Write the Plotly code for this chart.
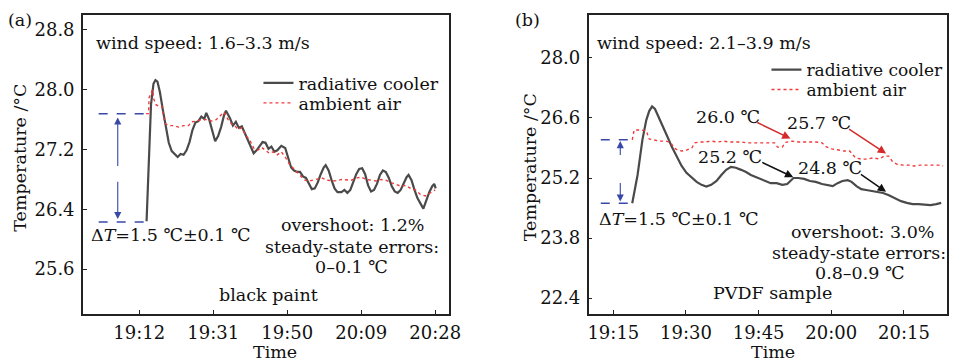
import plotly.graph_objects as go

# ---------------- data: panel (a) black paint (minutes after 19:00) ----------------
time_cooler_a = [13.90, 14.53, 15.04, 15.67, 16.18, 16.69, 17.32, 18.08, 18.84, 19.60,
                 20.36, 21.12, 21.88, 22.64, 23.40, 24.16, 24.92, 25.68, 26.44, 27.20,
                 27.96, 28.72, 29.23, 29.99, 30.75, 31.51, 32.27, 33.03, 33.79, 34.29,
                 35.31, 36.07, 36.83, 37.59, 38.35, 39.11, 39.87, 40.63, 41.39, 42.15,
                 42.91, 43.67, 44.43, 45.19, 45.95, 46.71, 47.47, 48.48, 49.49, 50.25,
                 51.01, 51.77, 52.53, 53.29, 54.05, 54.81, 55.57, 56.33, 57.09, 57.85,
                 58.61, 59.37, 59.88, 60.64, 61.40, 62.16, 62.92, 63.93, 64.69, 65.45,
                 66.21, 66.97, 67.73, 68.49, 69.25, 70.01, 70.77, 71.53, 72.29, 73.05,
                 73.81, 74.57, 75.33, 76.09, 76.85, 77.61, 78.37, 79.13, 79.89, 80.65,
                 81.16, 81.92, 82.68, 83.44, 84.20, 84.96, 85.72, 86.48, 87.24, 87.75,
                 88.13]
cooler_a = [26.24, 27.19, 27.80, 28.08, 28.13, 28.11, 27.97, 27.73, 27.49, 27.29,
            27.18, 27.14, 27.10, 27.14, 27.13, 27.19, 27.30, 27.46, 27.56, 27.58,
            27.64, 27.61, 27.69, 27.60, 27.44, 27.31, 27.38, 27.50, 27.66, 27.72,
            27.62, 27.52, 27.57, 27.49, 27.51, 27.42, 27.35, 27.26, 27.15, 27.19,
            27.25, 27.30, 27.29, 27.21, 27.24, 27.17, 27.19, 27.25, 27.22, 27.09,
            26.96, 26.92, 26.90, 26.90, 26.84, 26.82, 26.74, 26.67, 26.68, 26.76,
            26.87, 26.96, 26.99, 26.92, 26.79, 26.68, 26.63, 26.63, 26.66, 26.62,
            26.66, 26.76, 26.87, 26.94, 26.95, 26.87, 26.72, 26.64, 26.66, 26.74,
            26.86, 26.92, 26.90, 26.82, 26.71, 26.64, 26.62, 26.66, 26.74, 26.83,
            26.86, 26.79, 26.66, 26.55, 26.48, 26.41, 26.52, 26.63, 26.71, 26.74,
            26.68]
time_air_a = [13.77, 14.41, 14.53, 15.04, 15.42, 15.80, 16.31, 17.07, 17.83, 18.33,
              18.84, 19.60, 20.87, 22.13, 23.40, 24.67, 25.43, 26.69, 27.96, 29.23,
              30.49, 31.76, 32.77, 33.79, 34.29, 35.05, 35.81, 36.57, 37.33, 38.35,
              39.36, 40.37, 41.39, 42.40, 43.41, 44.43, 45.44, 46.45, 47.47, 48.48,
              49.49, 50.51, 51.52, 52.53, 53.55, 54.56, 55.57, 56.59, 57.60, 58.87,
              60.13, 61.40, 62.67, 63.93, 65.20, 66.47, 67.73, 69.00, 70.27, 71.53,
              72.80, 74.07, 75.33, 76.60, 77.87, 79.13, 80.40, 81.67, 82.93, 84.20,
              85.47, 86.73, 88.00]
air_a = [27.68, 27.68, 27.89, 27.97, 28.00, 27.87, 27.80, 27.78, 27.78, 27.62,
         27.54, 27.52, 27.52, 27.50, 27.52, 27.52, 27.57, 27.58, 27.60, 27.60,
         27.58, 27.60, 27.65, 27.70, 27.65, 27.58, 27.54, 27.52, 27.47, 27.49,
         27.39, 27.33, 27.22, 27.19, 27.23, 27.19, 27.15, 27.17, 27.13, 27.17,
         27.10, 27.01, 26.95, 26.90, 26.84, 26.79, 26.78, 26.79, 26.80, 26.82,
         26.79, 26.79, 26.78, 26.80, 26.79, 26.79, 26.82, 26.83, 26.80, 26.79,
         26.78, 26.80, 26.79, 26.76, 26.74, 26.71, 26.72, 26.68, 26.66, 26.60,
         26.58, 26.62, 26.66]
delta_time_a = [1.6, 14.0]
delta_levels_a = [26.23, 27.68]
x_ticks_a = [12, 31, 50, 69, 88]
x_labels_a = ["19:12", "19:31", "19:50", "20:09", "20:28"]
y_ticks_a = [25.6, 26.4, 27.2, 28.0, 28.8]

# ---------------- data: panel (b) PVDF sample ----------------
time_cooler_b = [18.9, 20.0, 21.0, 21.8, 22.4, 23.0, 23.6, 24.4, 25.3, 26.1,
                 27.1, 28.1, 29.1, 30.1, 31.2, 32.2, 33.2, 34.2, 35.2, 36.3,
                 37.3, 38.3, 39.3, 40.3, 41.4, 42.4, 43.4, 44.4, 45.4, 46.5,
                 47.5, 48.7, 49.9, 50.9, 51.5, 52.2, 53.2, 54.4, 55.6, 56.8,
                 58.1, 59.3, 60.3, 61.3, 62.3, 63.4, 64.2, 65.2, 66.2, 67.2,
                 68.3, 69.5, 70.7, 71.9, 73.1, 74.4, 75.6, 76.8, 78.0, 79.3,
                 80.5, 81.7, 82.7]
cooler_b = [24.61, 25.27, 26.09, 26.55, 26.76, 26.87, 26.81, 26.62, 26.41, 26.18,
            25.92, 25.69, 25.48, 25.32, 25.20, 25.11, 25.04, 25.00, 25.04, 25.13,
            25.27, 25.39, 25.46, 25.44, 25.39, 25.34, 25.27, 25.22, 25.18, 25.13,
            25.08, 25.08, 25.04, 25.06, 25.13, 25.20, 25.20, 25.18, 25.13, 25.11,
            25.06, 25.04, 25.01, 25.08, 25.13, 25.15, 25.11, 25.01, 24.94, 24.92,
            24.90, 24.87, 24.85, 24.80, 24.73, 24.66, 24.62, 24.59, 24.59, 24.58,
            24.57, 24.59, 24.62]
time_air_b = [18.9, 19.3, 20.6, 21.8, 22.4, 23.4, 24.6, 25.9, 26.9, 27.5,
              28.3, 29.1, 30.1, 31.2, 31.8, 32.8, 34.0, 35.2, 36.5, 37.7,
              38.9, 40.1, 41.4, 42.6, 43.8, 44.6, 45.4, 46.5, 47.5, 48.3,
              48.9, 49.9, 50.5, 51.9, 53.2, 54.4, 55.6, 56.8, 58.1, 58.9,
              60.1, 61.3, 62.6, 63.8, 65.0, 66.2, 67.4, 68.7, 69.9, 70.9,
              71.9, 72.7, 73.6, 74.8, 76.0, 77.2, 78.4, 79.7, 80.9, 82.1,
              83.1]
air_b = [26.09, 26.32, 26.32, 26.30, 26.11, 26.09, 26.06, 26.06, 26.02, 25.90,
         25.85, 25.83, 25.85, 25.90, 26.02, 26.04, 26.04, 26.06, 26.04, 26.06,
         26.04, 26.04, 26.04, 26.02, 26.02, 26.02, 26.03, 26.02, 26.02, 26.02,
         25.92, 25.92, 26.03, 26.06, 26.04, 26.04, 26.04, 26.04, 26.02, 25.93,
         25.88, 25.85, 25.83, 25.83, 25.67, 25.64, 25.64, 25.67, 25.64, 25.71,
         25.71, 25.57, 25.52, 25.50, 25.50, 25.48, 25.50, 25.50, 25.50, 25.50,
         25.48]
delta_time_b = [12.4, 18.9]
delta_levels_b = [24.61, 26.09]
x_ticks_b = [15, 30, 45, 60, 75]
x_labels_b = ["19:15", "19:30", "19:45", "20:00", "20:15"]
y_ticks_b = [22.4, 23.8, 25.2, 26.6, 28.0]

# ---------------- styling ----------------
FONT = "DejaVu Serif"
FS = 17.5
TFS = 18
BLACK = "#4a4a4a"
RED = "#f03a3a"
BLUE = "#3848a8"

fig = go.Figure()

def add_panel(xa, ya, t_c, v_c, t_a, v_a, d_t, d_lv, leg_c, leg_a):
    fig.add_trace(go.Scatter(x=t_c, y=v_c, mode="lines", name="radiative cooler",
                             line=dict(color=BLACK, width=2.2), xaxis=xa, yaxis=ya, legend=leg_c))
    fig.add_trace(go.Scatter(x=t_a, y=v_a, mode="lines", name="ambient air",
                             line=dict(color=RED, width=1.4, dash="dot"), xaxis=xa, yaxis=ya, legend=leg_a))
    for lv in d_lv:
        fig.add_trace(go.Scatter(x=d_t, y=[lv, lv], mode="lines", showlegend=False,
                                 line=dict(color=BLUE, width=1.5, dash="dash"), xaxis=xa, yaxis=ya))

add_panel("x", "y", time_cooler_a, cooler_a, time_air_a, air_a, delta_time_a, delta_levels_a, "legend", "legend2")
add_panel("x2", "y2", time_cooler_b, cooler_b, time_air_b, air_b, delta_time_b, delta_levels_b, "legend3", "legend4")

axis_common = dict(showline=True, mirror=True, linecolor="#222", linewidth=1.5,
                   ticks="inside", ticklen=4, tickwidth=1.3, tickcolor="#222",
                   showgrid=False, zeroline=False,
                   tickfont=dict(family=FONT, size=TFS, color="#111"))
ydom = [0.1326, 0.9586]

def leg(xpx, ytop, size=FS):
    return dict(x=xpx/959, y=1-ytop/362, xanchor="left", yanchor="top", bgcolor="rgba(0,0,0,0)",
                font=dict(family=FONT, size=size, color="#111"), itemwidth=30)

fig.update_layout(
    xaxis=dict(domain=[0.0866, 0.4734], range=[-2.44, 91.5], anchor="y",
               tickvals=x_ticks_a, ticktext=x_labels_a, ticklabelstandoff=2, **axis_common),
    yaxis=dict(domain=ydom, range=[25.0, 29.0], anchor="x",
               tickvals=y_ticks_a, ticktext=[f"{v:.1f}" for v in y_ticks_a], ticklabelstandoff=3, **axis_common),
    xaxis2=dict(domain=[0.6212, 0.9995], range=[9.9, 83.8], anchor="y2",
                tickvals=x_ticks_b, ticktext=x_labels_b, ticklabelstandoff=2, **axis_common),
    yaxis2=dict(domain=ydom, range=[22.03, 29.0], anchor="x2",
                tickvals=y_ticks_b, ticktext=[f"{v:.1f}" for v in y_ticks_b], ticklabelstandoff=3, **axis_common),
    width=959, height=362, margin=dict(l=0, r=0, t=0, b=0),
    paper_bgcolor="white", plot_bgcolor="white",
    font=dict(family=FONT, size=FS, color="#111"),
    legend=leg(261, 65), legend2=leg(261, 85),
    legend3=leg(776, 52, 17), legend4=leg(776, 72, 17),
)

def txt(text, x, y, xanchor="center", angle=0):
    fig.add_annotation(text=text, x=x, y=y, xref="paper", yref="paper", showarrow=False,
                       xanchor=xanchor, yanchor="middle", textangle=angle,
                       font=dict(family=FONT, size=FS, color="#111"))

# panel (a) texts
txt("(a)", 0.0053, 0.9448, "left")
txt("wind speed: 1.6–3.3 m/s", 0.0981, 0.8812, "left")
txt("Δ<i>T</i>=1.5 ℃±0.1 ℃", 0.0928, 0.3508, "left")
txt("overshoot: 1.2%", 0.3712, 0.3785)
txt("steady-state errors:", 0.3712, 0.3185)
txt("0–0.1 ℃", 0.3702, 0.2633)
txt("black paint", 0.2824, 0.1851)
txt("Temperature /°C", 0.0198, 0.5635, angle=-90)
txt("Time", 0.2894, 0.0285)

# panel (b) texts
txt("(b)", 0.5412, 0.9448, "left")
txt("wind speed: 2.1–3.9 m/s", 0.6278, 0.8812, "left")
txt("Δ<i>T</i>=1.5 ℃±0.1 ℃", 0.6298, 0.3942, "left")
txt("overshoot: 3.0%", 0.9103, 0.3583)
txt("steady-state errors:", 0.907, 0.3019)
txt("0.8–0.9 ℃", 0.9082, 0.245)
txt("PVDF sample", 0.816, 0.1898)
txt("Temperature /°C", 0.5595, 0.5387, angle=-90)
txt("Time", 0.8165, 0.0285)
txt("26.0 ℃", 0.7683, 0.6776)
txt("25.7 ℃", 0.8643, 0.6594)
txt("25.2 ℃", 0.7705, 0.5671)
txt("24.8 ℃", 0.8758, 0.5351)

def arrow(xr, yr, x, y, ax, ay, color, width=1.5, head=2, size=1.0):
    fig.add_annotation(text="", x=x, y=y, ax=ax, ay=ay, xref=xr, yref=yr, axref=xr, ayref=yr,
                       showarrow=True, arrowhead=head, arrowsize=size, arrowwidth=width,
                       arrowcolor=color, standoff=0, startstandoff=0)

# delta-T arrows
arrow("x", "y", 6.5, 27.63, 6.5, 26.96, BLUE, 1.1, 2, 1.3)
arrow("x", "y", 6.5, 26.27, 6.5, 26.79, BLUE, 1.1, 2, 1.3)
arrow("x2", "y2", 16.43, 26.06, 16.43, 25.70, BLUE, 1.1, 2, 1.3)
arrow("x2", "y2", 16.43, 24.65, 16.43, 25.12, BLUE, 1.1, 2, 1.3)
# value arrows in (b)
arrow("x2", "y2", 51.57, 26.12, 44.41, 26.51, "#d42a2a", 1.5, 2, 1.1)
arrow("x2", "y2", 71.31, 25.77, 63.36, 26.36, "#d42a2a", 1.5, 2, 1.1)
arrow("x2", "y2", 52.16, 25.22, 45.43, 25.58, "#111", 1.5, 2, 1.1)
arrow("x2", "y2", 71.31, 24.88, 65.81, 25.31, "#111", 1.5, 2, 1.1)

fig.write_html("out.html", config={"displayModeBar": False},
               post_script="document.body.style.margin='0';document.body.style.overflow='hidden';")
